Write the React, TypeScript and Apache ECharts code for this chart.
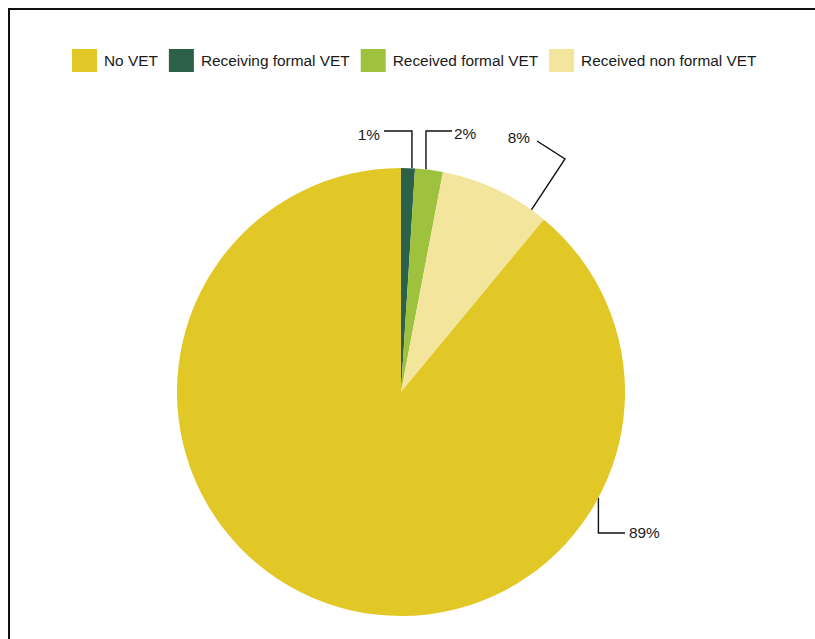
import React, { useEffect, useRef } from "react";
import * as echarts from "echarts";

const categories = ["Receiving formal VET", "Received formal VET", "Received non formal VET", "No VET"];
const values = [1, 2, 8, 89];
const colors = ["#2C6149", "#9EC23D", "#F3E59C", "#E2C826"];
const legendOrder = ["No VET", "Receiving formal VET", "Received formal VET", "Received non formal VET"];

const FONT = "'Liberation Sans', Arial, sans-serif";
const FS = 15.4;
const CX = 401;
const CY = 392;
const R = 224;

// leader-line anchor angle on the rim for each slice
const anchorDeg = [2.8, 6.4, 35.6, 118.2];

function arcPt(deg: number): [number, number] {
  const a = (deg * Math.PI) / 180;
  return [CX + R * Math.sin(a), CY - R * Math.cos(a)];
}

export default function App() {
  const ref = useRef<HTMLDivElement>(null);
  useEffect(() => {
    if (!ref.current) return;
    const chart = echarts.init(ref.current, undefined, { renderer: "svg" });
    chart.setOption({
      animation: false,
      backgroundColor: "#ffffff",
      graphic: [
        { type: "line", shape: { x1: 8, y1: 9, x2: 815, y2: 9 }, style: { stroke: "#111", lineWidth: 2 } },
        { type: "line", shape: { x1: 9, y1: 8, x2: 9, y2: 639 }, style: { stroke: "#111", lineWidth: 2 } },
      ],
      legend: {
        data: legendOrder,
        left: 72,
        top: 49,
        padding: 0,
        itemWidth: 25,
        itemHeight: 23,
        itemGap: 11,
        icon: "rect",
        textStyle: { fontFamily: FONT, fontSize: FS, color: "#1a1a1a", padding: [0, 0, 0, 2] },
      },
      series: [
        {
          type: "pie",
          center: [CX, CY],
          radius: R,
          startAngle: 90,
          clockwise: true,
          avoidLabelOverlap: false,
          data: categories.map((c, i) => ({ name: c, value: values[i], itemStyle: { color: colors[i] } })),
          label: {
            show: true,
            position: "outside",
            formatter: "{c}%",
            fontFamily: FONT,
            fontSize: FS,
            color: "#1a1a1a",
          },
          labelLine: { show: true, lineStyle: { color: "#111", width: 1.4 } },
          emphasis: { disabled: true },
          labelLayout: (params: any) => {
            const i = params.dataIndex;
            const p0 = arcPt(anchorDeg[i]);
            if (i === 0) {
              const p1 = [p0[0], 131];
              const p2 = [384, 131];
              return { x: 380, y: 134, align: "right", verticalAlign: "middle", labelLinePoints: [p0, p1, p2] };
            }
            if (i === 1) {
              const p1 = [p0[0], 131];
              const p2 = [452, 131];
              return { x: 454, y: 133, align: "left", verticalAlign: "middle", labelLinePoints: [p0, p1, p2] };
            }
            if (i === 2) {
              const p1 = [565, 159];
              const p2 = [537, 141];
              return { x: 530, y: 137, align: "right", verticalAlign: "middle", labelLinePoints: [p0, p1, p2] };
            }
            const p1 = [p0[0], 533];
            const p2 = [625, 533];
            return { x: 629, y: 532, align: "left", verticalAlign: "middle", labelLinePoints: [p0, p1, p2] };
          },
        },
      ],
    });
    return () => chart.dispose();
  }, []);
  return (
    <div
      ref={ref}
      style={{ position: "fixed", left: 0, top: 0, width: 815, height: 639, background: "#fff" }}
    />
  );
}
